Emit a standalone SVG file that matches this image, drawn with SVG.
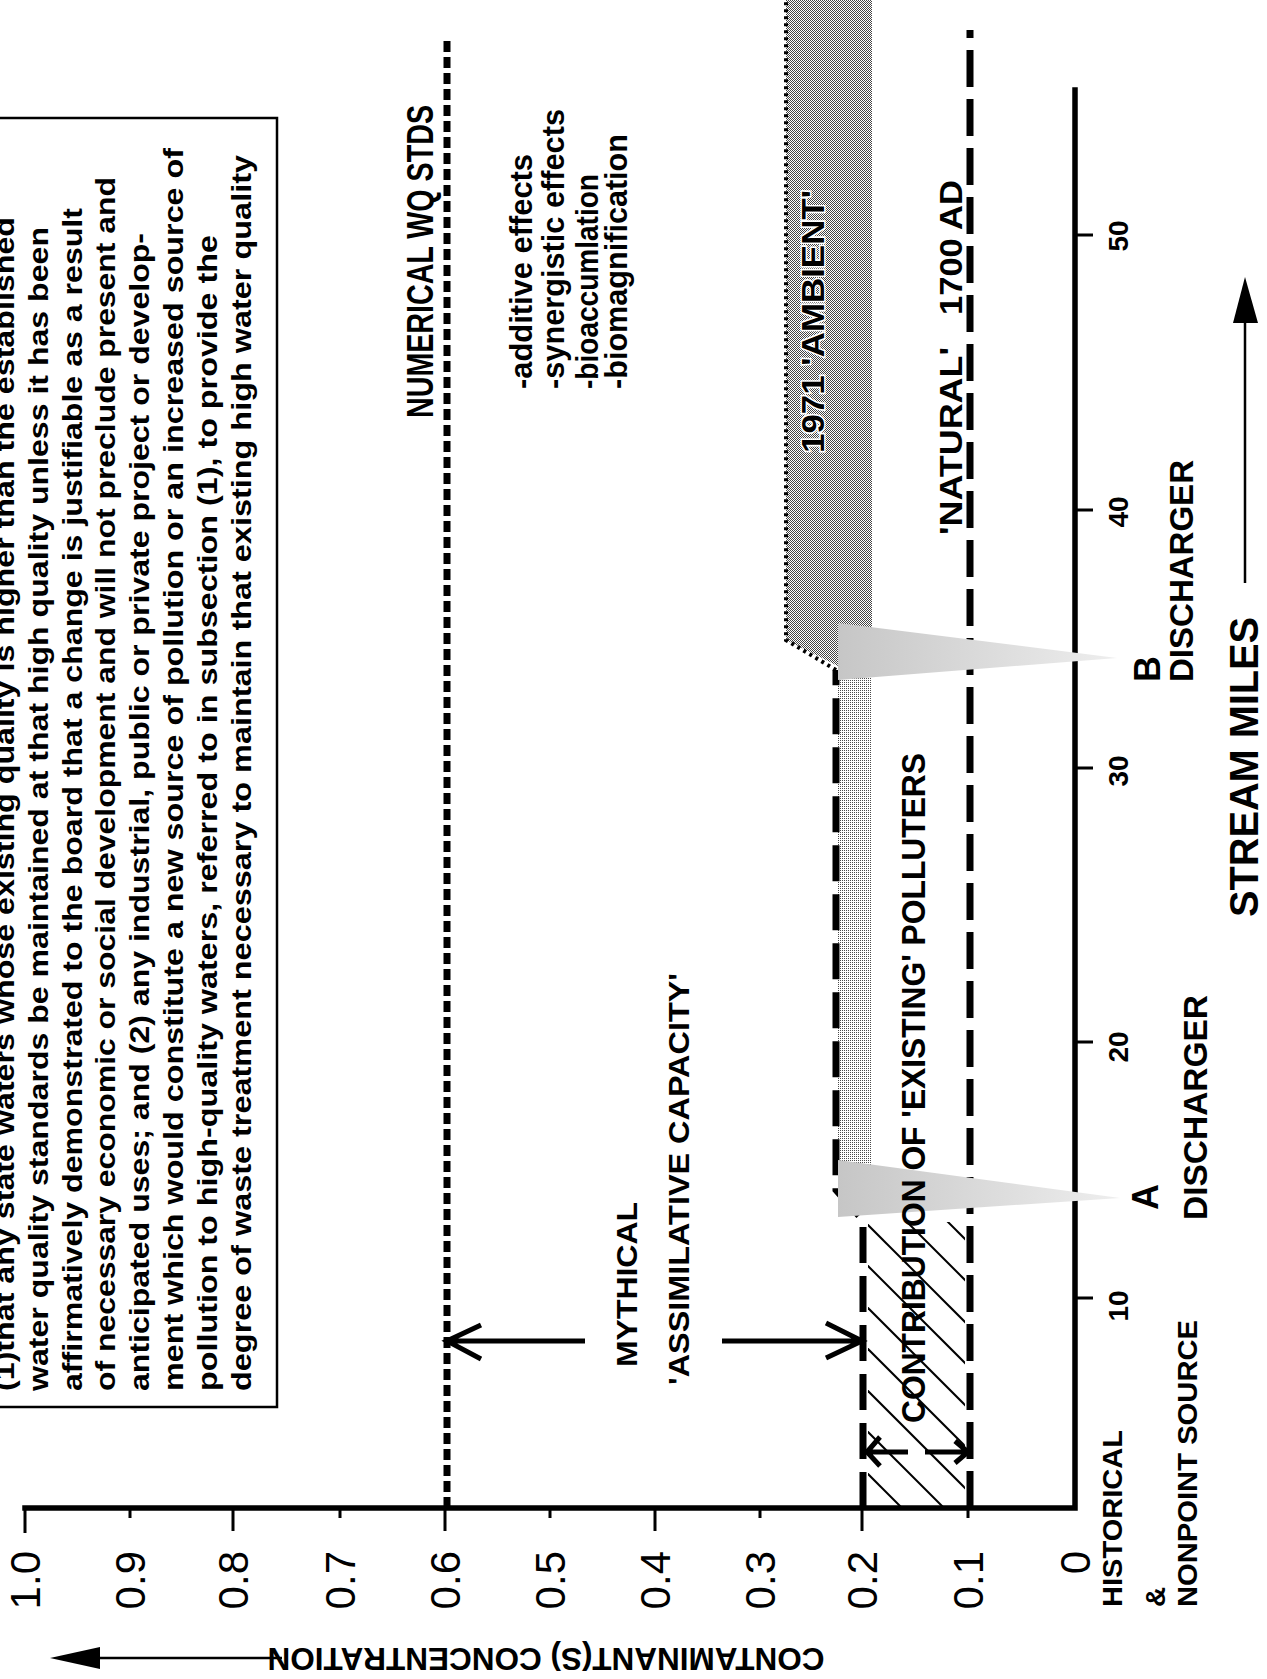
<svg xmlns="http://www.w3.org/2000/svg" width="1267" height="1679" viewBox="0 0 1267 1679">
<defs>
<style>
.t{font-family:"Liberation Sans",Arial,Helvetica,sans-serif;font-weight:bold;fill:#000}
.n{font-weight:normal}
.box{font-size:27px}
.ax{stroke:#000;stroke-width:5.5;fill:none;stroke-linecap:square}
.tk{stroke:#000;stroke-width:3;fill:none}
.d2{stroke:#000;stroke-width:7;fill:none;stroke-dasharray:36 13}
.d6{stroke:#000;stroke-width:7;fill:none;stroke-dasharray:11 5}
.dot{stroke:#000;stroke-width:4;fill:none;stroke-dasharray:3 4}
.arr{stroke:#000;stroke-width:5;fill:none}
.hatch{stroke:#000;stroke-width:2}
.halo{stroke:#fff;stroke-width:3;paint-order:stroke}
</style>
<pattern id="darkdots" width="2" height="2" patternUnits="userSpaceOnUse">
<rect width="2" height="2" fill="#fff"/>
<rect width="1" height="1" fill="#444"/>
<rect x="1" y="1" width="1" height="1" fill="#444"/>
</pattern>
<pattern id="lightdots" width="2" height="2" patternUnits="userSpaceOnUse">
<rect width="2" height="2" fill="#fff"/>
<rect width="1" height="1" fill="#4a4a4a"/>
</pattern>
<linearGradient id="plume" x1="0" y1="0" x2="0" y2="1">
<stop offset="0" stop-color="#c6c6c6"/>
<stop offset="1" stop-color="#eeeeee"/>
</linearGradient>
<clipPath id="hatchclip"><rect x="173" y="868" width="284" height="97"/></clipPath>
</defs>
<rect width="1267" height="1679" fill="#fff"/>
<g transform="translate(0,1679) rotate(-90)">
<g id="regions">
<rect id="existing-band" x="470" y="838" width="580" height="34" fill="url(#lightdots)"/>
<polygon id="ambient-region" points="1039,786 1690,786 1690,872 1050,872 1012,840" fill="url(#darkdots)"/>
<g id="hatch" clip-path="url(#hatchclip)">
<line class="hatch" x1="545" y1="860" x2="430" y2="975"/>
<line class="hatch" x1="504" y1="860" x2="389" y2="975"/>
<line class="hatch" x1="462" y1="860" x2="347" y2="975"/>
<line class="hatch" x1="421" y1="860" x2="306" y2="975"/>
<line class="hatch" x1="379" y1="860" x2="264" y2="975"/>
<line class="hatch" x1="338" y1="860" x2="223" y2="975"/>
<line class="hatch" x1="296" y1="860" x2="181" y2="975"/>
<line class="hatch" x1="255" y1="860" x2="140" y2="975"/>
<line class="hatch" x1="213" y1="860" x2="98" y2="975"/>
</g>
</g>
<g id="axes">
<path class="ax" d="M171 25 V1075 H1589"/>
<path class="tk" d="M171 25 H146 M171 130 H161 M171 233 H148 M171 340 H161 M171 445 H148 M171 550 H161 M171 655 H148 M171 760 H161 M171 862 H148 M171 968 H161"/>
<path class="tk" d="M381 1075 V1093 M637 1075 V1093 M911 1075 V1093 M1169 1075 V1093 M1444 1075 V1093"/>
<g class="t n" font-size="42" text-anchor="end">
<text x="128" y="40">1.0</text>
<text x="128" y="145">0.9</text>
<text x="128" y="248">0.8</text>
<text x="128" y="355">0.7</text>
<text x="128" y="460">0.6</text>
<text x="128" y="565">0.5</text>
<text x="128" y="670">0.4</text>
<text x="128" y="775">0.3</text>
<text x="128" y="877">0.2</text>
<text x="128" y="983">0.1</text>
<text x="128" y="1090">0</text>
</g>
<g class="t" font-size="28" text-anchor="middle">
<text x="373" y="1128">10</text>
<text x="632" y="1128">20</text>
<text x="908" y="1128">30</text>
<text x="1167" y="1128">40</text>
<text x="1443" y="1128">50</text>
</g>
</g>
<g id="connectors">
<line id="numerical-wq-line" class="d6" x1="171" y1="447" x2="1641" y2="447"/>
<path id="existing-line" class="d2" d="M171 863 H459 L489 836 H1009"/>
<path id="ambient-line" class="dot" d="M1009 836 L1039 786 H1690"/>
<line id="natural-line" class="d2" x1="171" y1="970" x2="1649" y2="970" style="stroke-dasharray:37 12"/>
<path class="arr" d="M338 585 V449 M354 481 L338 447 L320 481"/>
<path class="arr" d="M338 722 V860 M356 826 L338 862 L321 826"/>
<path class="arr" d="M227 908 V869 M242 880 L227 867 L213 880"/>
<path class="arr" d="M227 925 V966 M238 955 L227 968 L216 955"/>
<path stroke="#000" stroke-width="2.5" d="M1096 1245 H1362"/>
<polygon points="1402,1245 1356,1233 1356,1258" fill="#000"/>
</g>
<g id="plumes">
<polygon id="plume-a" points="519,838 462,838 481,1120" fill="url(#plume)"/>
<polygon id="plume-b" points="1056,838 999,838 1021,1117" fill="url(#plume)"/>
</g>
<g id="text-box">
<rect x="272" y="-10" width="1289" height="287" fill="#fff" stroke="#000" stroke-width="2.5"/>
<g class="t box">
<text x="288" y="14" textLength="1174" lengthAdjust="spacingAndGlyphs">(1)that any state waters whose existing quality is higher than the established</text>
<text x="288" y="47.8" textLength="1164" lengthAdjust="spacingAndGlyphs">water quality standards be maintained at that high quality unless it has been</text>
<text x="288" y="81.6" textLength="1183" lengthAdjust="spacingAndGlyphs">affirmatively demonstrated to the board that a change is justifiable as a result</text>
<text x="288" y="115.4" textLength="1214" lengthAdjust="spacingAndGlyphs">of necessary economic or social development and will not preclude present and</text>
<text x="288" y="149.2" textLength="1158" lengthAdjust="spacingAndGlyphs">anticipated uses; and (2) any industrial, public or private project or develop-</text>
<text x="288" y="183" textLength="1243" lengthAdjust="spacingAndGlyphs">ment which would constitute a new source of pollution or an increased source of</text>
<text x="288" y="216.8" textLength="1156" lengthAdjust="spacingAndGlyphs">pollution to high-quality waters, referred to in subsection (1), to provide the</text>
<text x="288" y="250.6" textLength="1236" lengthAdjust="spacingAndGlyphs">degree of waste treatment necessary to maintain that existing high water quality</text>
</g>
</g>
<g id="labels" class="t">
<text id="numerical-label" x="1261" y="433" font-size="36" textLength="313" lengthAdjust="spacingAndGlyphs">NUMERICAL WQ STDS</text>
<g id="effects" font-size="31">
<text x="1290" y="532" textLength="235" lengthAdjust="spacingAndGlyphs">-additive effects</text>
<text x="1290" y="564" textLength="280" lengthAdjust="spacingAndGlyphs">-synergistic effects</text>
<text x="1290" y="598" textLength="215" lengthAdjust="spacingAndGlyphs">-bioaccumlation</text>
<text x="1290" y="627" textLength="255" lengthAdjust="spacingAndGlyphs">-biomagnification</text>
</g>
<text id="ambient-label" class="halo" x="1226" y="824" font-size="31" textLength="263" lengthAdjust="spacingAndGlyphs">1971 'AMBIENT'</text>
<text x="1144" y="962" font-size="31" textLength="188" lengthAdjust="spacingAndGlyphs">'NATURAL'</text>
<text x="1364" y="962" font-size="31" textLength="135" lengthAdjust="spacingAndGlyphs">1700 AD</text>
<text x="312" y="637" font-size="30" textLength="165" lengthAdjust="spacingAndGlyphs">MYTHICAL</text>
<text x="294" y="689" font-size="30" textLength="412" lengthAdjust="spacingAndGlyphs">'ASSIMILATIVE CAPACITY'</text>
<text x="256" y="925" font-size="33" textLength="670" lengthAdjust="spacingAndGlyphs">CONTRIBUTION OF 'EXISTING' POLLUTERS</text>
<g id="discharger-a">
<text x="469" y="1158" font-size="36">A</text>
<text x="459" y="1207" font-size="33" textLength="225" lengthAdjust="spacingAndGlyphs">DISCHARGER</text>
</g>
<g id="discharger-b">
<text x="997" y="1160" font-size="36">B</text>
<text x="997" y="1193" font-size="33" textLength="222" lengthAdjust="spacingAndGlyphs">DISCHARGER</text>
</g>
<g id="historical">
<text x="72" y="1122" font-size="28" textLength="177" lengthAdjust="spacingAndGlyphs">HISTORICAL</text>
<text x="72" y="1165" font-size="28">&amp;</text>
<text x="72" y="1197" font-size="28" textLength="287" lengthAdjust="spacingAndGlyphs">NONPOINT SOURCE</text>
</g>
<text id="stream-miles" x="762" y="1258" font-size="41" textLength="300" lengthAdjust="spacingAndGlyphs">STREAM MILES</text>
</g>
</g>
<g id="y-axis-title">
<line x1="98" y1="1658" x2="282" y2="1658" stroke="#000" stroke-width="2.5"/>
<polygon points="50,1658 100,1647 100,1669" fill="#000"/>
<text class="t" transform="translate(546,1648) rotate(180)" text-anchor="middle" font-size="31" textLength="557" lengthAdjust="spacingAndGlyphs">CONTAMINANT(S) CONCENTRATION</text>
</g>
</svg>
